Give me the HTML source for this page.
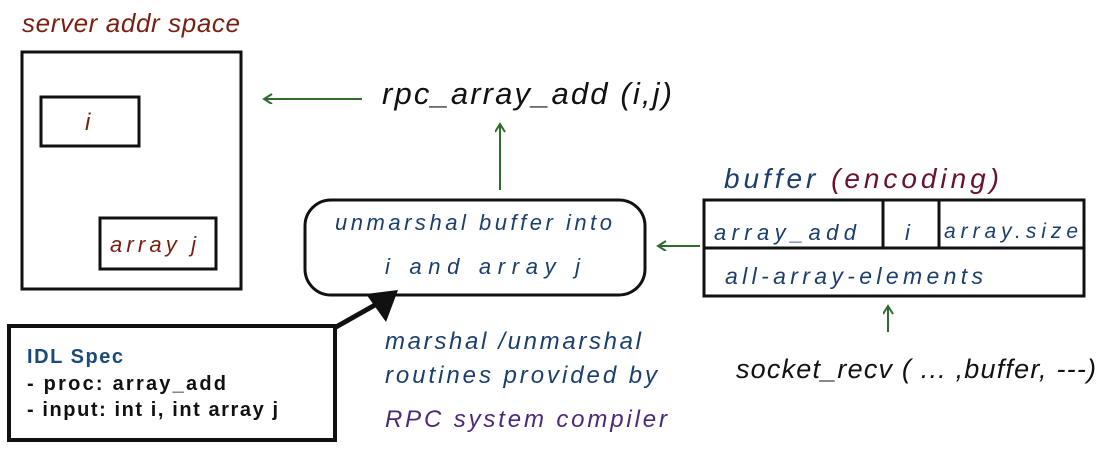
<!DOCTYPE html>
<html><head><style>
html,body{margin:0;padding:0;background:#fff;width:1107px;height:463px;overflow:hidden}
</style></head><body>
<svg width="1107" height="463" viewBox="0 0 1107 463" xmlns="http://www.w3.org/2000/svg" font-family="Liberation Sans, sans-serif">
<defs>
<marker id="g" markerWidth="12" markerHeight="12" refX="9" refY="5" orient="auto" markerUnits="userSpaceOnUse"><path d="M1,0 L9,5 L1,10" fill="none" stroke="#2e6b2e" stroke-width="2"/></marker>
</defs>
<g fill="none" stroke="#111" stroke-width="3">
<rect x="22" y="52" width="219" height="237"/>
<rect x="41" y="97" width="98" height="49"/>
<rect x="100" y="218" width="116" height="51"/>
<rect x="305" y="200" width="340" height="95" rx="26"/>
<rect x="704" y="200" width="380" height="96"/>
<line x1="704" y1="248" x2="1084" y2="248"/>
<line x1="883" y1="200" x2="883" y2="248"/>
<line x1="939" y1="200" x2="939" y2="248"/>
<rect x="9" y="326" width="326" height="114" stroke-width="4"/>
<line x1="336" y1="327" x2="375" y2="305" stroke-width="5"/>
</g>
<polygon points="366,294 398,290 386,322" fill="#111"/>
<g stroke="#2e6b2e" stroke-width="2" fill="none">
<line x1="362" y1="99" x2="264" y2="99" marker-end="url(#g)"/>
<line x1="500" y1="190" x2="500" y2="124" marker-end="url(#g)"/>
<line x1="700" y1="246" x2="658" y2="246" marker-end="url(#g)"/>
<line x1="888" y1="332" x2="888" y2="306" marker-end="url(#g)"/>
</g>
<g font-style="italic">
<text x="22" y="32" font-size="26" fill="#7a1f10" textLength="218">server addr space</text>
<text x="85" y="130" font-size="24" fill="#7a1f10">i</text>
<text x="110" y="252" font-size="22" fill="#7a1f10" textLength="86">array j</text>
<text x="382" y="104" font-size="31" fill="#111" textLength="290">rpc_array_add (i,j)</text>
<text x="335" y="230" font-size="22" fill="#1a3f6e" textLength="277">unmarshal buffer into</text>
<text x="385" y="274" font-size="22" fill="#1a3f6e" textLength="195">i  and array j</text>
<text x="724" y="188" font-size="28" fill="#1a3f6e" textLength="275">buffer <tspan fill="#6a1030">(encoding)</tspan></text>
<text x="714" y="240" font-size="22" fill="#1a3f6e" textLength="142">array_add</text>
<text x="905" y="240" font-size="22" fill="#1a3f6e">i</text>
<text x="944" y="238" font-size="21" fill="#1a3f6e" textLength="134">array.size</text>
<text x="725" y="284" font-size="23" fill="#1a3f6e" textLength="258">all-array-elements</text>
<text x="385" y="349" font-size="24" fill="#1a3f6e" textLength="256">marshal /unmarshal</text>
<text x="385" y="383" font-size="24" fill="#1a3f6e" textLength="272">routines provided by</text>
<text x="385" y="427" font-size="24" fill="#4a2a78" textLength="282">RPC system compiler</text>
<text x="736" y="378" font-size="27" fill="#111" textLength="360">socket_recv ( ... ,buffer, ---)</text>
</g>
<text x="27" y="363" font-size="20" font-weight="bold" fill="#1a4a78" textLength="96">IDL Spec</text>
<text x="27" y="390" font-size="20" font-weight="bold" fill="#111" textLength="199">- proc: array_add</text>
<text x="27" y="416" font-size="20" font-weight="bold" fill="#111" textLength="251">- input: int i, int array j</text>
</svg>
</body></html>
